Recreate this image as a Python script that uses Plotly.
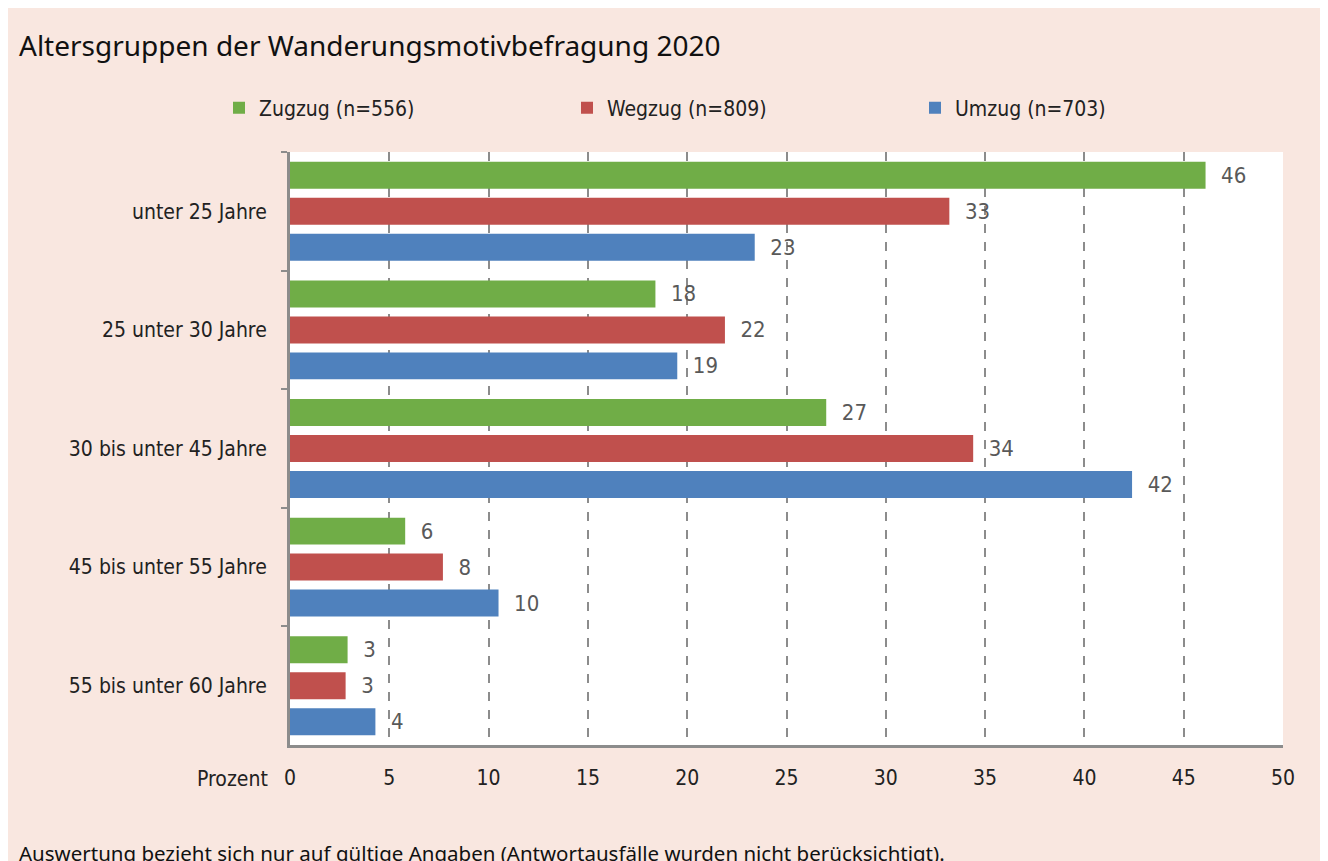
import plotly.graph_objects as go

categories = ["unter 25 Jahre", "25 unter 30 Jahre", "30 bis unter 45 Jahre",
              "45 bis unter 55 Jahre", "55 bis unter 60 Jahre"]
series_names = ["Zugzug (n=556)", "Wegzug (n=809)", "Umzug (n=703)"]
zugzug = [46.1, 18.4, 27.0, 5.8, 2.9]
wegzug = [33.2, 21.9, 34.4, 7.7, 2.8]
umzug = [23.4, 19.5, 42.4, 10.5, 4.3]
zugzug_lbl = [46, 18, 27, 6, 3]
wegzug_lbl = [33, 22, 34, 8, 3]
umzug_lbl = [23, 19, 42, 10, 4]
x_ticks = [0, 5, 10, 15, 20, 25, 30, 35, 40, 45, 50]
title = "Altersgruppen der Wanderungsmotivbefragung 2020"
footnote = "Auswertung bezieht sich nur auf gültige Angaben (Antwortausfälle wurden nicht berücksichtigt)."

colors = ["#70ad47", "#c0504d", "#4f81bd"]
PINK = "#f9e7e0"
COND = "DejaVu Sans Condensed"
NBSP = "\u00a0\u00a0"

fig = go.Figure()
for name, vals, lbls, col in zip(series_names, [zugzug, wegzug, umzug],
                                 [zugzug_lbl, wegzug_lbl, umzug_lbl], colors):
    fig.add_trace(go.Bar(
        y=categories, x=vals, name=name, orientation="h",
        marker=dict(color=col, line=dict(width=0)),
        text=[NBSP + str(v) for v in lbls], textposition="outside",
        textfont=dict(family=COND, size=22, color="#595959"),
        cliponaxis=False,
    ))

OFF = 8  # page body margin
W, H = 1312, 870
L, T = 290 - OFF, 152 - OFF
R = W - (1283 - OFF)
B = H - (745 - OFF)
pw, ph = W - L - R, H - T - B

def px_x(p):
    return (p - OFF - L) / pw

def px_y(p):
    return (H - B - (p - OFF)) / ph

annotations = [
    dict(text=title, xref="paper", yref="paper", x=px_x(17), y=px_y(45),
         xanchor="left", yanchor="middle", showarrow=False,
         font=dict(family="Noto Sans", size=28, color="#111111")),
    dict(text="Prozent", xref="paper", yref="paper", x=px_x(270), y=px_y(779),
         xanchor="right", yanchor="middle", showarrow=False,
         font=dict(family=COND, size=21, color="#222222")),
    dict(text=footnote, xref="paper", yref="paper", x=px_x(17), y=px_y(853),
         xanchor="left", yanchor="middle", showarrow=False,
         font=dict(family="Noto Sans", size=20.5, color="#111111")),
]

fig.update_layout(
    width=W, height=H,
    margin=dict(l=L, r=R, t=T, b=B, autoexpand=False),
    paper_bgcolor=PINK, plot_bgcolor="white",
    barmode="group", bargap=0.09, bargroupgap=0.25,
    annotations=annotations,
    showlegend=True,
    legend=dict(orientation="h", x=px_x(219), y=px_y(108),
                xanchor="left", yanchor="middle",
                entrywidth=303, entrywidthmode="pixels",
                font=dict(family=COND, size=21, color="#222222"),
                bgcolor="rgba(0,0,0,0)", traceorder="normal"),
    xaxis=dict(range=[0, 50], tickvals=x_ticks, showgrid=True,
               gridcolor="#8c8c8c", griddash="dash", gridwidth=2,
               showline=True, linecolor="#8c8c8c", linewidth=3,
               ticks="", zeroline=False,
               tickfont=dict(family=COND, size=21, color="#222222"),
               ticklabelstandoff=12),
    yaxis=dict(autorange="reversed", showline=True, linecolor="#8c8c8c",
               linewidth=3, ticks="outside", tickson="boundaries",
               ticklen=6, tickcolor="#8c8c8c", tickwidth=2,
               showgrid=False, zeroline=False,
               tickfont=dict(family=COND, size=21, color="#222222"),
               ticklabelstandoff=16),
)

fig.write_html("out.html")
